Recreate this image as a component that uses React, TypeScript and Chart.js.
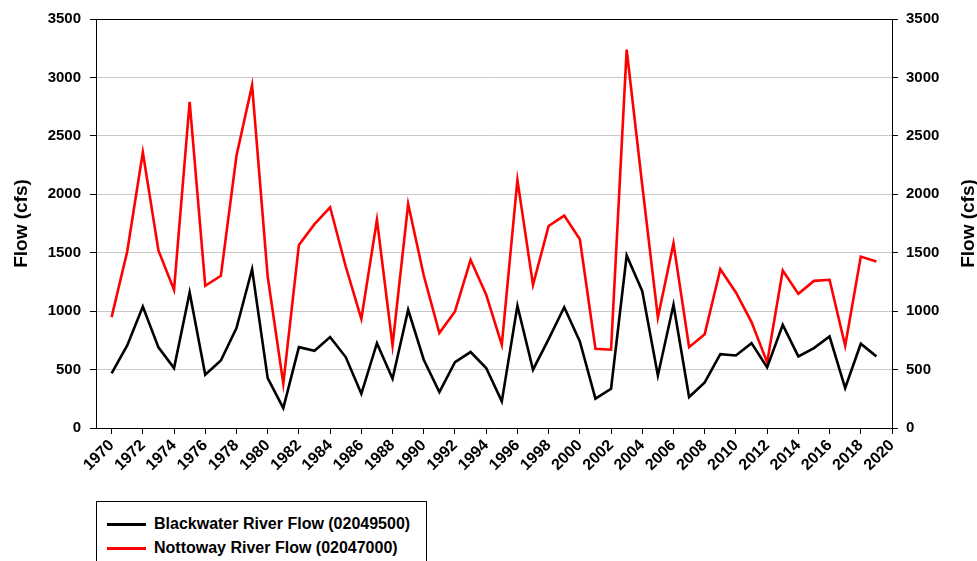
import React, { useEffect, useRef } from "react";
import { Chart, registerables } from "chart.js";

Chart.register(...registerables);

const years = [
  1970, 1971, 1972, 1973, 1974, 1975, 1976, 1977, 1978, 1979,
  1980, 1981, 1982, 1983, 1984, 1985, 1986, 1987, 1988, 1989,
  1990, 1991, 1992, 1993, 1994, 1995, 1996, 1997, 1998, 1999,
  2000, 2001, 2002, 2003, 2004, 2005, 2006, 2007, 2008, 2009,
  2010, 2011, 2012, 2013, 2014, 2015, 2016, 2017, 2018, 2019,
];

const blackwaterFlow = [
  467, 707, 1040, 690, 513, 1160, 456, 578, 855, 1359,
  427, 171, 692, 661, 778, 607, 293, 726, 422, 1011,
  584, 308, 564, 650, 513, 228, 1046, 499, 761, 1034,
  741, 251, 336, 1476, 1171, 450, 1054, 265, 390, 632,
  621, 726, 519, 883, 613, 684, 783, 342, 721, 613,
];

const nottowayFlow = [
  949, 1510, 2359, 1519, 1182, 2792, 1217, 1302, 2330, 2934,
  1296, 379, 1567, 1744, 1889, 1382, 934, 1781, 707, 1917,
  1305, 812, 997, 1439, 1140, 712, 2123, 1225, 1729, 1818,
  1615, 678, 670, 3238, 2075, 945, 1580, 692, 803, 1359,
  1160, 906, 561, 1348, 1148, 1259, 1268, 704, 1467, 1425,
];

const xTickYears = [
  1970, 1972, 1974, 1976, 1978, 1980, 1982, 1984, 1986, 1988,
  1990, 1992, 1994, 1996, 1998, 2000, 2002, 2004, 2006, 2008,
  2010, 2012, 2014, 2016, 2018, 2020,
];

const seriesNames = ["Blackwater River Flow (02049500)", "Nottoway River Flow (02047000)"];
const seriesColors = ["#000000", "#ff0000"];
const axisTitle = "Flow (cfs)";

const FONT = "'Liberation Sans', Arial, sans-serif";

export default function App() {
  const canvasRef = useRef<HTMLCanvasElement | null>(null);

  useEffect(() => {
    const canvas = canvasRef.current;
    if (!canvas) return;

    const titlesPlugin = {
      id: "titlesAndFrame",
      afterDraw(chart: any) {
        const { ctx, chartArea } = chart;
        ctx.save();
        ctx.strokeStyle = "#000";
        ctx.lineWidth = 1;
        ctx.beginPath();
        ctx.moveTo(chartArea.left, chartArea.top + 0.5);
        ctx.lineTo(chartArea.right, chartArea.top + 0.5);
        ctx.stroke();
        ctx.fillStyle = "#000";
        ctx.font = `bold 19px ${FONT}`;
        ctx.textAlign = "center";
        ctx.textBaseline = "middle";
        const cy = (chartArea.top + chartArea.bottom) / 2;
        ctx.save();
        ctx.translate(22, cy);
        ctx.rotate(-Math.PI / 2);
        ctx.fillText(axisTitle, 0, 0);
        ctx.restore();
        ctx.save();
        ctx.translate(969, cy);
        ctx.rotate(-Math.PI / 2);
        ctx.fillText(axisTitle, 0, 0);
        ctx.restore();
        ctx.restore();
      },
    };

    const yTickFont = { family: FONT, size: 15, weight: "bold" as const };

    const chart = new Chart(canvas, {
      type: "line",
      data: {
        datasets: [
          {
            label: seriesNames[0],
            data: years.map((y, i) => ({ x: y, y: blackwaterFlow[i] })),
            borderColor: seriesColors[0],
            borderWidth: 2.6,
            pointRadius: 0,
            tension: 0,
            yAxisID: "y",
          },
          {
            label: seriesNames[1],
            data: years.map((y, i) => ({ x: y, y: nottowayFlow[i] })),
            borderColor: seriesColors[1],
            borderWidth: 2.6,
            pointRadius: 0,
            tension: 0,
            yAxisID: "y",
          },
        ],
      },
      options: {
        responsive: false,
        animation: false,
        layout: { padding: { top: 19, left: 0, right: 0, bottom: 0 } },
        plugins: {
          legend: { display: false },
          tooltip: { enabled: false },
        },
        scales: {
          x: {
            type: "linear",
            min: 1969,
            max: 2020,
            afterBuildTicks: (scale: any) => {
              scale.ticks = xTickYears.map((v) => ({ value: v }));
            },
            afterFit: (scale: any) => {
              scale.height = 133;
            },
            ticks: {
              autoSkip: false,
              maxRotation: 45,
              minRotation: 45,
              color: "#000",
              font: { family: FONT, size: 16, weight: "bold" as const },
              padding: 2,
              callback: (v: any) => String(v),
            },
            grid: { drawOnChartArea: false, tickLength: 6, tickColor: "#000", color: "#000" },
            border: { color: "#000", width: 1 },
          },
          y: {
            position: "left",
            min: 0,
            max: 3500,
            afterFit: (scale: any) => {
              scale.width = 96;
            },
            ticks: { stepSize: 500, color: "#000", font: yTickFont, padding: 9, callback: (v: any) => String(v) },
            grid: { color: "#c8c8c8", lineWidth: 1, tickLength: 6, tickColor: "#000" },
            border: { color: "#000", width: 1 },
          },
          y2: {
            position: "right",
            min: 0,
            max: 3500,
            afterFit: (scale: any) => {
              scale.width = 85;
            },
            ticks: { stepSize: 500, color: "#000", font: yTickFont, padding: 8, callback: (v: any) => String(v) },
            grid: { drawOnChartArea: false, tickLength: 6, tickColor: "#000" },
            border: { color: "#000", width: 1 },
          },
        },
      },
      plugins: [titlesPlugin],
    } as any);

    return () => chart.destroy();
  }, []);

  const legendText = { fontFamily: FONT, fontWeight: "bold" as const, fontSize: 16, color: "#000", whiteSpace: "nowrap" as const };

  return (
    <div style={{ position: "fixed", left: 0, top: 0, width: 977, height: 561, overflow: "hidden", background: "#fff" }}>
      <canvas ref={canvasRef} width={977} height={561} style={{ position: "absolute", left: 0, top: 0 }} />
      <div
        style={{
          position: "absolute",
          left: 96,
          top: 501,
          width: 331,
          height: 80,
          border: "1px solid #000",
          background: "#fff",
          boxSizing: "border-box",
        }}
      >
        {seriesNames.map((name, i) => (
          <div key={name} style={{ position: "absolute", left: 10, top: 12 + i * 24, height: 20, display: "flex", alignItems: "center" }}>
            <div style={{ width: 39, height: 3, background: seriesColors[i], marginRight: 8 }} />
            <span style={legendText}>{name}</span>
          </div>
        ))}
      </div>
    </div>
  );
}
